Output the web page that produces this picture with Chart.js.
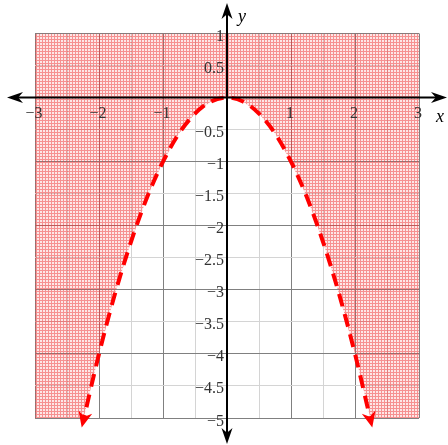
<!DOCTYPE html>
<html>
<head>
<meta charset="utf-8">
<script src="https://cdn.jsdelivr.net/npm/chart.js@4/dist/chart.umd.min.js"></script>
<style>
  body { margin: 0; background: #fff; }
  #wrap { width: 448px; height: 445px; }
</style>
</head>
<body>
<div id="wrap"><canvas id="graph"></canvas></div>
<script>
// Curva y = -x^2
const curveX = [-2.27, -2, -1.75, -1.5, -1.25, -1, -0.75, -0.5, -0.25, 0, 0.25, 0.5, 0.75, 1, 1.25, 1.5, 1.75, 2, 2.27];
const curveY = [-5.15, -4, -3.06, -2.25, -1.56, -1, -0.56, -0.25, -0.06, 0, -0.06, -0.25, -0.56, -1, -1.56, -2.25, -3.06, -4, -5.15];

// Borde de la zona sombreada (y > -x^2)
const shadeX = [-3, -2.24, -2, -1.75, -1.5, -1.25, -1, -0.75, -0.5, -0.25, 0, 0.25, 0.5, 0.75, 1, 1.25, 1.5, 1.75, 2, 2.24, 3];
const shadeY = [-5, -5, -4, -3.06, -2.25, -1.56, -1, -0.56, -0.25, -0.06, 0, -0.06, -0.25, -0.56, -1, -1.56, -2.25, -3.06, -4, -5, -5];

// Etiquetas de los ejes
const xTicks = [-3, -2, -1, 1, 2, 3];
const yTicks = [1, 0.5, -0.5, -1, -1.5, -2, -2.5, -3, -3.5, -4, -4.5, -5];

const SERIF = "'Liberation Serif', 'Times New Roman', 'DejaVu Serif', serif";

const toPoints = (xs, ys) => xs.map((x, i) => ({ x: x, y: ys[i] }));
const fmt = (v) => (v < 0 ? "\u2212" + String(-v) : String(v));

// Trama rosa
const pc = document.createElement("canvas");
pc.width = 3;
pc.height = 3;
const pg = pc.getContext("2d");
pg.fillStyle = "rgba(240,60,60,0.12)";
pg.fillRect(0, 0, 3, 3);
pg.fillStyle = "rgba(240,60,60,0.5)";
pg.fillRect(0, 0, 3, 1);
pg.fillRect(0, 1, 1, 2);
const ctx = document.getElementById("graph").getContext("2d");
const hatch = ctx.createPattern(pc, "repeat");

function arrowHead(c, x, y, ang, len, w, color) {
  c.save();
  c.translate(x, y);
  c.rotate(ang);
  c.fillStyle = color;
  c.beginPath();
  c.moveTo(0, 0);
  c.lineTo(-len, -w);
  c.lineTo(-len * 0.7, 0);
  c.lineTo(-len, w);
  c.closePath();
  c.fill();
  c.restore();
}

const decorations = {
  id: "decorations",
  afterDraw(chart) {
    const c = chart.ctx;
    const sx = chart.scales.x;
    const sy = chart.scales.y;
    const x0 = sx.getPixelForValue(0);
    const y0 = sy.getPixelForValue(0);

    // Ejes con flechas
    c.save();
    c.strokeStyle = "#000";
    c.lineWidth = 2;
    c.beginPath();
    c.moveTo(12, y0);
    c.lineTo(442, y0);
    c.moveTo(x0, 8);
    c.lineTo(x0, 439);
    c.stroke();
    c.restore();
    arrowHead(c, 447, y0, 0, 16, 5.5, "#000");
    arrowHead(c, 7, y0, Math.PI, 16, 5.5, "#000");
    arrowHead(c, x0, 3, -Math.PI / 2, 16, 5.5, "#000");
    arrowHead(c, x0, 444, Math.PI / 2, 16, 5.5, "#000");

    // Flechas de la curva
    const pts = chart.getDatasetMeta(0).data;
    const first = pts[0];
    const last = pts[pts.length - 1];
    const a1 = Math.atan2(first.y - first.cp2y, first.x - first.cp2x);
    const a2 = Math.atan2(last.y - last.cp1y, last.x - last.cp1x);
    arrowHead(c, first.x, first.y, a1, 16, 7, "#ff0000");
    arrowHead(c, last.x, last.y, a2, 16, 7, "#ff0000");

    // Números
    c.save();
    c.fillStyle = "#333";
    c.font = "16px " + SERIF;
    c.textAlign = "center";
    c.textBaseline = "alphabetic";
    xTicks.forEach((v) => {
      c.fillText(fmt(v), sx.getPixelForValue(v) - 1, y0 + 20);
    });
    c.textAlign = "right";
    yTicks.forEach((v) => {
      c.fillText(fmt(v), x0 - 3, sy.getPixelForValue(v) + 7.5);
    });

    // Nombres de los ejes
    c.fillStyle = "#000";
    c.font = "italic 18px " + SERIF;
    c.textAlign = "center";
    c.fillText("x", 440, y0 + 24);
    c.fillText("y", x0 + 15, 22);
    c.restore();
  },
};

function draw() {
  new Chart(ctx, {
    type: "scatter",
    data: {
      datasets: [
        {
          data: toPoints(curveX, curveY),
          showLine: true,
          borderColor: "#ff0000",
          borderWidth: 4,
          borderDash: [13, 8],
          pointRadius: 0,
          cubicInterpolationMode: "monotone",
          fill: false,
          order: 0,
        },
        {
          data: toPoints(shadeX, shadeY),
          showLine: true,
          borderWidth: 0,
          borderColor: "rgba(0,0,0,0)",
          backgroundColor: hatch,
          pointRadius: 0,
          tension: 0,
          fill: "end",
          order: 1,
        },
      ],
    },
    options: {
      responsive: true,
      maintainAspectRatio: false,
      animation: false,
      layout: { padding: { left: 35, right: 29, top: 33.5, bottom: 27 } },
      plugins: { legend: { display: false }, tooltip: { enabled: false } },
      scales: {
        x: {
          type: "linear",
          min: -3,
          max: 3,
          ticks: { stepSize: 0.5, display: false },
          grid: {
            drawTicks: false,
            color: (c) => (Number.isInteger(c.tick.value) ? "#808080" : "#d4d4d4"),
          },
          border: { display: false },
        },
        y: {
          type: "linear",
          min: -5,
          max: 1,
          ticks: { stepSize: 0.5, display: false },
          grid: {
            drawTicks: false,
            color: (c) => (Number.isInteger(c.tick.value) ? "#808080" : "#d4d4d4"),
          },
          border: { display: false },
        },
      },
    },
    plugins: [decorations],
  });
}

Promise.all([
  document.fonts.load("16px 'Liberation Serif'"),
  document.fonts.load("italic 18px 'Liberation Serif'"),
]).then(draw, draw);
</script>
</body>
</html>
